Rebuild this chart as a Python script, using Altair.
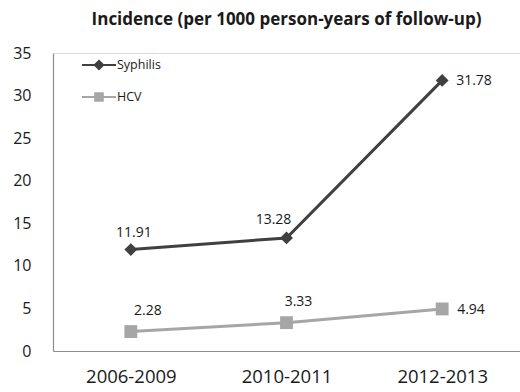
import altair as alt
import pandas as pd

periods = ["2006-2009", "2010-2011", "2012-2013"]
syphilis = [11.91, 13.28, 31.78]
hcv = [2.28, 3.33, 4.94]
series = ["Syphilis", "HCV"]
y_ticks = [0, 5, 10, 15, 20, 25, 30, 35]

rows = []
for name, vals in zip(series, [syphilis, hcv]):
    for i, (p, v) in enumerate(zip(periods, vals)):
        rows.append({"period": p, "series": name, "name": name, "value": v,
                     "label": f"{v:.2f}", "idx": i})
df = pd.DataFrame(rows)

FONT = "Open Sans"
colors = ["#404040", "#a6a6a6"]

x_enc = alt.X("period:N", sort=periods, title=None,
              scale=alt.Scale(paddingOuter=0.5, paddingInner=1),
              axis=alt.Axis(labelAngle=0, labelFontSize=18.5, labelColor="#1a1a1a",
                            labelFont=FONT, labelPadding=16, ticks=False,
                            domainColor="#8c8c8c", domainWidth=1.2))
y_enc = alt.Y("value:Q", title=None,
              scale=alt.Scale(domain=[0, 35], nice=False),
              axis=alt.Axis(values=y_ticks, grid=False, ticks=False,
                            labelFontSize=16, labelColor="#1a1a1a", labelFont=FONT,
                            labelPadding=22, domainColor="#8c8c8c", domainWidth=1.2))

def color_enc(field, legend):
    return alt.Color(f"{field}:N", sort=series,
                     scale=alt.Scale(domain=series, range=colors), legend=legend)

syph_path = "M-1,-0.06H1V0.06H-1Z M0,-0.33L0.33,0L0,0.33L-0.33,0Z"
hcv_path = "M-1,-0.06H1V0.06H-1Z M-0.28,-0.28H0.28V0.28H-0.28Z"

base = alt.Chart(df)

lines = base.mark_line(strokeWidth=3).encode(
    x=x_enc, y=y_enc, color=color_enc("series", None))

points = base.mark_point(filled=True, opacity=1, size=165).encode(
    x=x_enc, y=y_enc, color=color_enc("series", None),
    shape=alt.Shape("series:N", sort=series,
                    scale=alt.Scale(domain=series, range=["diamond", "square"]),
                    legend=None),
)

leg = alt.Legend(title=None, orient="none", legendX=29, legendY=-5,
                 symbolSize=1156, labelFontSize=12.5, labelFont=FONT,
                 labelColor="#1a1a1a", labelOffset=1, rowPadding=8,
                 symbolOpacity=1, symbolStrokeWidth=0)
legend_layer = base.mark_point(filled=True, opacity=0, size=1).encode(
    x=x_enc, y=y_enc, color=color_enc("name", leg),
    shape=alt.Shape("name:N", sort=series,
                    scale=alt.Scale(domain=series, range=[syph_path, hcv_path]),
                    legend=leg),
)

txt_props = dict(fontSize=14, font=FONT, color="#1a1a1a")
# label placement (style): (series, index) -> (align, dx, dy)
placements = {
    ("Syphilis", 0): ("center", 3, -17),
    ("Syphilis", 1): ("center", -13, -18),
    ("Syphilis", 2): ("left", 14, 1),
    ("HCV", 0): ("center", 17, -21),
    ("HCV", 1): ("center", 12, -21),
    ("HCV", 2): ("left", 15, 1),
}
labels = []
for (s, i), (al, dx, dy) in placements.items():
    labels.append(
        base.transform_filter(f"datum.series == '{s}' && datum.idx == {i}")
        .mark_text(align=al, dx=dx, dy=dy, **txt_props)
        .encode(x=x_enc, y=y_enc, text="label:N"))

chart = alt.layer(lines, points, legend_layer, *labels).resolve_scale(
    color="independent", shape="independent"
).properties(
    width=467, height=298,
    autosize=alt.AutoSizeParams(type="none"),
    padding={"left": 53, "top": 53, "right": 0, "bottom": 41},
    title=alt.Title("Incidence (per 1000 person-years of follow-up)",
                    fontSize=17, font=FONT, fontWeight="bold", color="#1a1a1a",
                    offset=16, anchor="middle"),
).configure_view(stroke=None).configure(background="white")

chart.save("out.html", embed_options={"renderer": "svg", "actions": False})
